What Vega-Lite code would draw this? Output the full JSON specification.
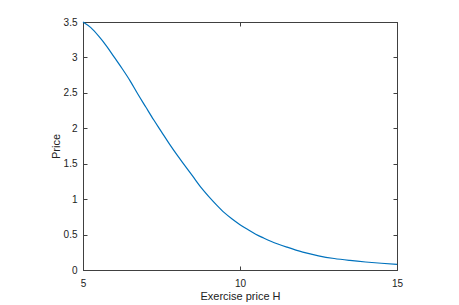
{
  "$schema": "https://vega.github.io/schema/vega-lite/v6.json",
  "autosize": "none",
  "width": 314,
  "height": 248,
  "padding": {"left": 83, "top": 22, "right": 62, "bottom": 35},
  "background": "white",
  "config": {
    "view": {"stroke": "#404040", "strokeWidth": 1},
    "font": "Liberation Sans",
    "axis": {
      "grid": false,
      "domainColor": "#404040",
      "tickColor": "#404040",
      "tickSize": -4,
      "labelFlush": false,
      "labelFont": "Liberation Sans",
      "titleFont": "Liberation Sans",
      "labelFontSize": 10,
      "titleFontSize": 11,
      "labelColor": "#222222",
      "titleColor": "#222222",
      "titleFontWeight": "normal"
    }
  },
  "data": {
    "values": [
      {"H": 5.0, "P": 3.5},
      {"H": 5.25, "P": 3.42},
      {"H": 5.5, "P": 3.3},
      {"H": 5.75, "P": 3.16},
      {"H": 6.0, "P": 3.0},
      {"H": 6.25, "P": 2.84},
      {"H": 6.5, "P": 2.67},
      {"H": 6.75, "P": 2.48},
      {"H": 7.0, "P": 2.3},
      {"H": 7.25, "P": 2.12},
      {"H": 7.5, "P": 1.95},
      {"H": 7.75, "P": 1.78},
      {"H": 8.0, "P": 1.62},
      {"H": 8.25, "P": 1.47},
      {"H": 8.5, "P": 1.32},
      {"H": 8.75, "P": 1.17},
      {"H": 9.0, "P": 1.04},
      {"H": 9.25, "P": 0.92},
      {"H": 9.5, "P": 0.81},
      {"H": 9.75, "P": 0.72},
      {"H": 10.0, "P": 0.64},
      {"H": 10.25, "P": 0.57},
      {"H": 10.5, "P": 0.505},
      {"H": 10.75, "P": 0.452},
      {"H": 11.0, "P": 0.403},
      {"H": 11.5, "P": 0.322},
      {"H": 12.0, "P": 0.252},
      {"H": 12.5, "P": 0.2},
      {"H": 13.0, "P": 0.162},
      {"H": 13.5, "P": 0.135},
      {"H": 14.0, "P": 0.113},
      {"H": 14.5, "P": 0.095},
      {"H": 15.0, "P": 0.08}
    ]
  },
  "layer": [
    {
      "mark": {"type": "line", "color": "#0072BD", "strokeWidth": 1.2, "interpolate": "monotone"},
      "encoding": {
        "x": {"field": "H", "type": "quantitative", "scale": {"domain": [5, 15], "nice": false},
          "axis": {"values": [5, 10, 15], "title": "Exercise price H", "labelPadding": 12, "titlePadding": 2, "orient": "bottom"}},
        "y": {"field": "P", "type": "quantitative", "scale": {"domain": [0, 3.5], "nice": false},
          "axis": {"values": [0, 0.5, 1, 1.5, 2, 2.5, 3, 3.5], "format": "~g", "title": "Price", "labelPadding": 10, "titlePadding": 2, "orient": "left"}}
      }
    },
    {
      "mark": {"type": "line", "opacity": 0},
      "encoding": {
        "x": {"field": "H", "type": "quantitative", "scale": {"domain": [5, 15], "nice": false},
          "axis": {"values": [5, 10, 15], "orient": "top", "labels": false, "title": null}},
        "y": {"field": "P", "type": "quantitative", "scale": {"domain": [0, 3.5], "nice": false},
          "axis": {"values": [0, 0.5, 1, 1.5, 2, 2.5, 3, 3.5], "orient": "right", "labels": false, "title": null}}
      }
    }
  ],
  "resolve": {"axis": {"x": "independent", "y": "independent"}}
}
